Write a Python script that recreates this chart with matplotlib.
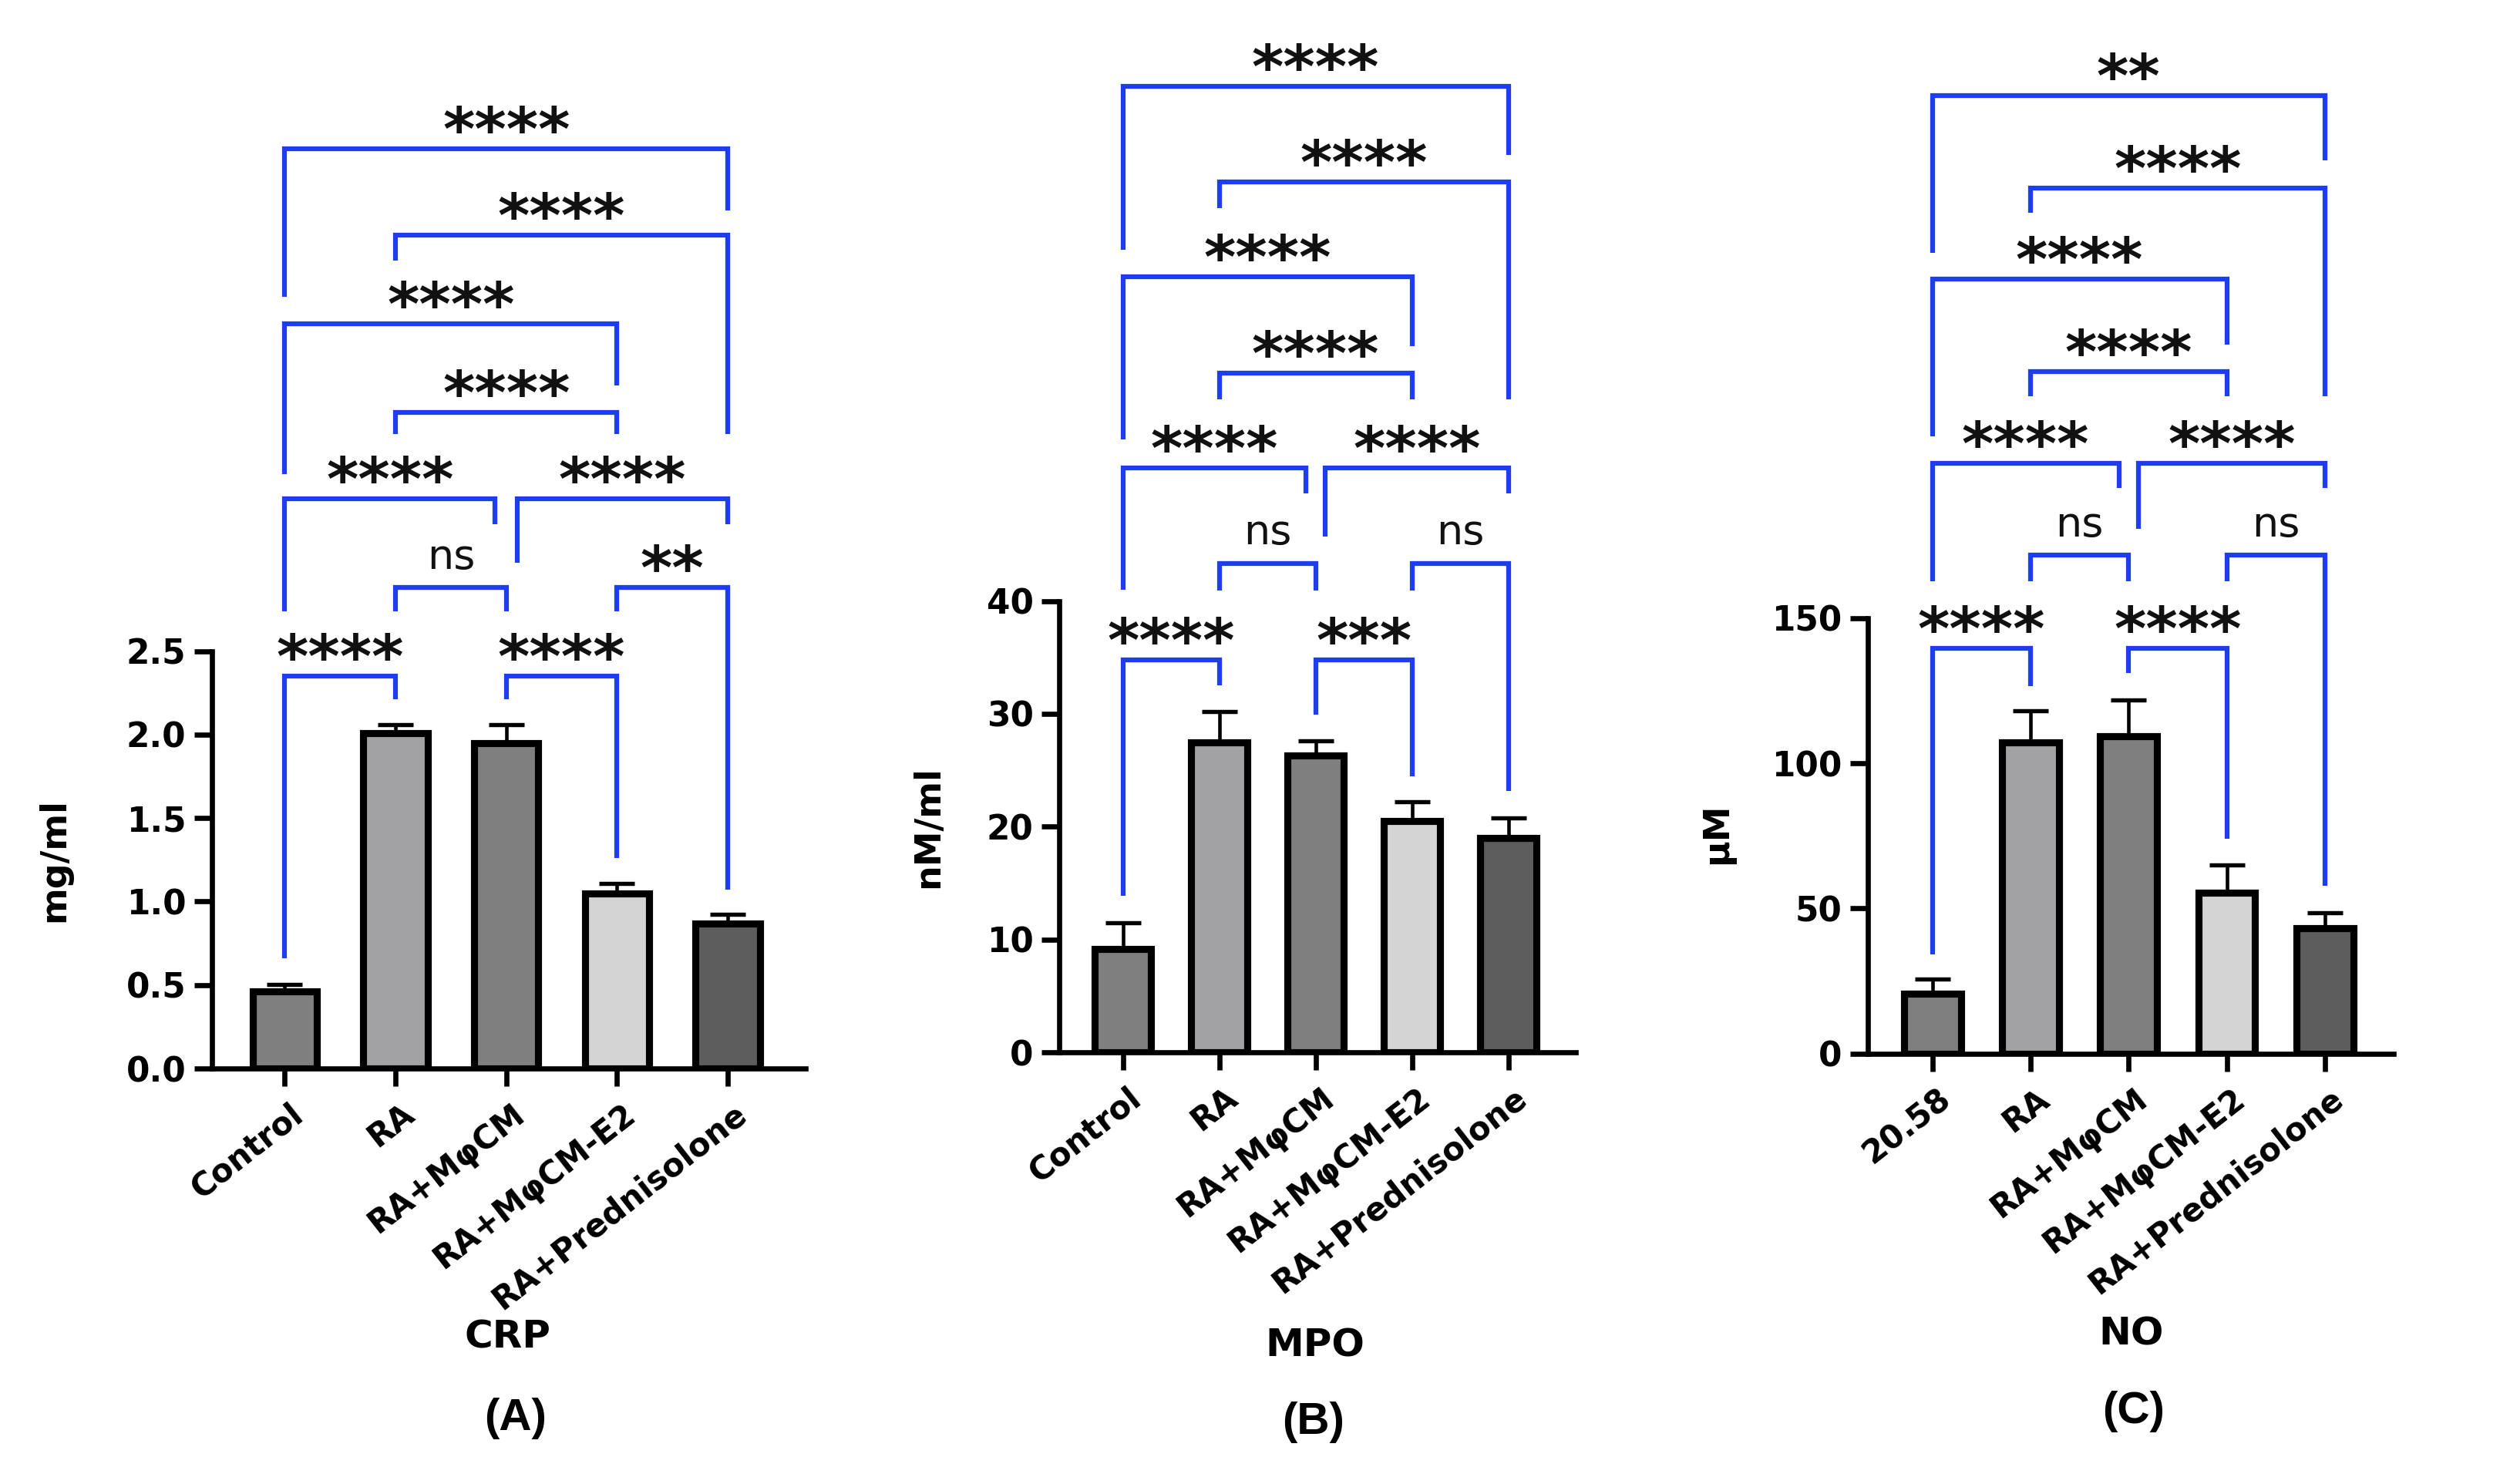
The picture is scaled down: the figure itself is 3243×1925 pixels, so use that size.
import matplotlib.pyplot as plt
from matplotlib.transforms import ScaledTranslation

plt.rcParams['font.family'] = 'DejaVu Sans'

groups = ['Control', 'RA', 'RA+MφCM', 'RA+MφCM-E2', 'RA+Prednisolone']
groups_no = ['20.58', 'RA', 'RA+MφCM', 'RA+MφCM-E2', 'RA+Prednisolone']

crp_mean = [0.46, 2.01, 1.95, 1.05, 0.87]
crp_sem = [0.045, 0.05, 0.11, 0.06, 0.055]
mpo_mean = [9.2, 27.5, 26.3, 20.5, 19.0]
mpo_sem = [2.3, 2.7, 1.3, 1.7, 1.8]
no_mean = [20.58, 107.1, 109.2, 55.4, 43.3]
no_sem = [5.0, 10.9, 12.7, 9.6, 5.3]

# multiple comparisons (group a, group b) and their significance
pairs = [(0, 4), (1, 4), (0, 3), (1, 3), (0, 2), (2, 4), (1, 2), (3, 4), (0, 1), (2, 3)]
crp_sig = ['****', '****', '****', '****', '****', '****', 'ns', '**', '****', '****']
mpo_sig = ['****', '****', '****', '****', '****', '****', 'ns', 'ns', '****', '***']
no_sig = ['**', '****', '****', '****', '****', '****', 'ns', 'ns', '****', '****']

# bracket layout: (bar height, left leg end, right leg end) in data units
crp_br = [(5.51, 4.62, 5.14), (4.99, 4.84, 3.80), (4.46, 3.56, 4.09), (3.93, 3.80, 3.80),
          (3.41, 2.74, 3.26), (3.41, 3.03, 3.26), (2.88, 2.74, 2.74), (2.88, 2.74, 1.07),
          (2.35, 0.66, 2.21), (2.35, 2.21, 1.26)]
mpo_br = [(85.6, 71.1, 79.5), (77.1, 74.8, 57.9), (68.7, 54.3, 62.6), (60.2, 57.9, 57.9),
          (51.8, 41.0, 49.5), (51.8, 45.7, 49.5), (43.35, 40.9, 40.9), (43.35, 40.9, 23.2),
          (34.8, 13.9, 32.5), (34.8, 29.9, 24.5)]
no_br = [(330.1, 275.7, 307.7), (298.1, 289.6, 226.5), (266.8, 212.6, 244.2), (235.0, 226.5, 226.5),
         (203.3, 162.7, 194.8), (203.3, 180.8, 194.8), (171.7, 162.8, 162.8), (171.7, 162.8, 57.9),
         (139.7, 34.2, 126.6), (139.7, 131.0, 74.1)]
nudge = [(0, 0)] * 4 + [(0, -0.1), (0.1, 0)] + [(0, 0)] * 4

bar_colors = ['#7f7f7f', '#a2a2a4', '#7f7f7f', '#d4d4d4', '#5d5d5d']
blue = '#1f3df0'

panels = [
    dict(mean=crp_mean, sem=crp_sem, sig=crp_sig, br=crp_br, labels=groups,
         ylabel='mg/ml', name='CRP', tag='(A)', ymax=6.0,
         yticks=[0, 0.5, 1.0, 1.5, 2.0, 2.5], yfmt='{:.1f}',
         rect=[0.0847, 0.2800, 0.2374, 0.6751],
         ylab_xy=(0.0289, 0.4203), name_xy=(0.2029, 0.0992), tag_xy=(0.2063, 0.0444)),
    dict(mean=mpo_mean, sem=mpo_sem, sig=mpo_sig, br=mpo_br, labels=groups,
         ylabel='nM/ml', name='MPO', tag='(B)', ymax=90,
         yticks=[0, 10, 20, 30, 40], yfmt='{:.0f}',
         rect=[0.4237, 0.2908, 0.2066, 0.6845],
         ylab_xy=(0.3785, 0.4427), name_xy=(0.5261, 0.0935), tag_xy=(0.5253, 0.0416)),
    dict(mean=no_mean, sem=no_sem, sig=no_sig, br=no_br, labels=groups_no,
         ylabel='µM', name='NO', tag='(C)', ymax=350,
         yticks=[0, 50, 100, 150], yfmt='{:.0f}',
         rect=[0.7471, 0.2901, 0.2103, 0.6846],
         ylab_xy=(0.6938, 0.4381), name_xy=(0.8526, 0.1009), tag_xy=(0.8535, 0.0490)),
]

fig = plt.figure(figsize=(10.81, 6.4167), dpi=300)
x = list(range(5))

for p in panels:
    ax = fig.add_axes(p['rect'])
    ax.patch.set_alpha(0)
    ax.errorbar(x, p['mean'], yerr=[[0] * 5, p['sem']], fmt='none', ecolor='black',
                elinewidth=1.1, capsize=5.5, capthick=1.3, zorder=1)
    ax.bar(x, p['mean'], width=0.58, color=bar_colors, edgecolor='black',
           linewidth=2.2, zorder=2)

    ax.set_xlim(-0.66, 4.70)
    ax.set_ylim(0, p['ymax'])
    for s in ['top', 'right']:
        ax.spines[s].set_visible(False)
    for s in ['left', 'bottom']:
        ax.spines[s].set_linewidth(1.6)
    ax.spines['left'].set_bounds(0, p['yticks'][-1])
    ax.set_yticks(p['yticks'], [p['yfmt'].format(t) for t in p['yticks']],
                  fontsize=10.5, fontweight='bold')
    ax.set_xticks(x, p['labels'], rotation=38, ha='right', va='top',
                  rotation_mode='anchor', fontsize=10, fontweight='bold')
    ax.tick_params(axis='both', length=5.5, width=1.6, direction='out')
    ax.tick_params(axis='y', pad=2.5)
    ax.tick_params(axis='x', pad=3.5)
    shift = ScaledTranslation(1.5 / 72, 0, fig.dpi_scale_trans)
    for lab in ax.get_xticklabels():
        lab.set_transform(lab.get_transform() + shift)

    ax.set_ylabel(p['ylabel'], fontsize=11, fontweight='bold')
    ax.yaxis.set_label_coords(*p['ylab_xy'], transform=fig.transFigure)
    ax.set_xlabel(p['name'], fontsize=12, fontweight='bold', va='center')
    ax.xaxis.set_label_coords(*p['name_xy'], transform=fig.transFigure)
    fig.text(*p['tag_xy'], p['tag'], ha='center', va='center', fontsize=14,
             fontweight='bold', family=['Liberation Sans', 'DejaVu Sans'])

    # significance brackets
    for (a, b), lab, (y, ya, yb), (da, db) in zip(pairs, p['sig'], p['br'], nudge):
        x1, x2 = a + da, b + db
        ax.plot([x1, x1, x2, x2], [ya, y, y, yb], color=blue, lw=1.5,
                solid_joinstyle='miter', solid_capstyle='butt', clip_on=False, zorder=3)
        if lab == 'ns':
            ax.annotate(lab, xy=((x1 + x2) / 2, y), xytext=(0, 5.9), textcoords='offset points',
                        ha='center', va='baseline', fontsize=13, color='#111111')
        else:
            ax.annotate(lab, xy=((x1 + x2) / 2, y), xytext=(0, -0.5),
                        textcoords='offset points', ha='center', va='baseline',
                        fontsize=19, fontweight='bold', color='#111111')

fig.savefig('out.png', dpi=300, facecolor='white')
